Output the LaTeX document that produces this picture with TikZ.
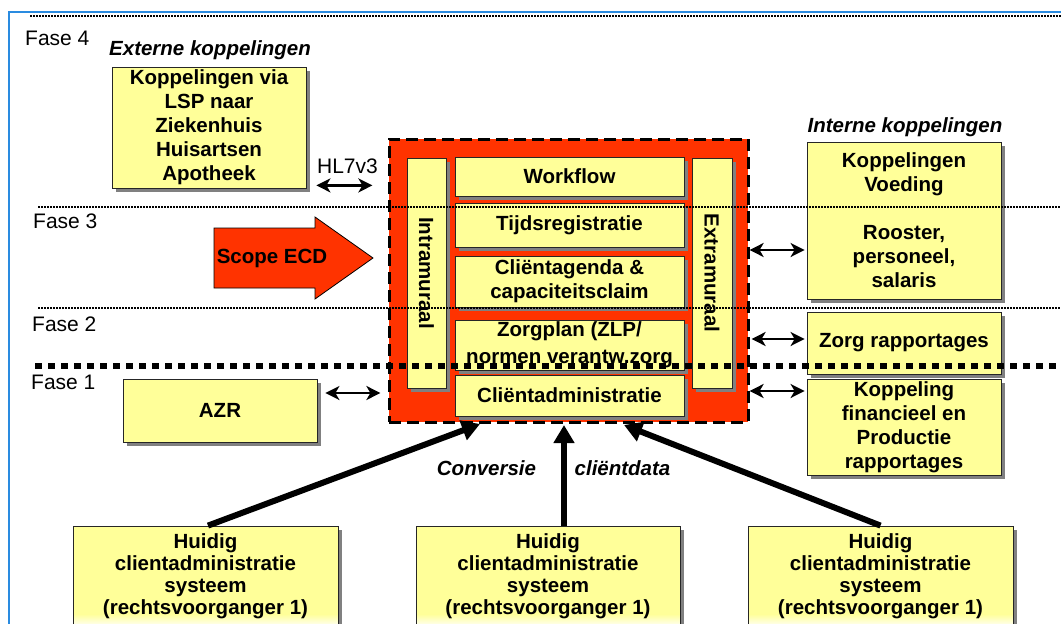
\documentclass[tikz,border=0pt]{standalone}
\usepackage{fontspec}
\setmainfont{Liberation Sans}
\usetikzlibrary{calc,arrows.meta}
\definecolor{geel}{HTML}{FFFF99}
\definecolor{rood}{HTML}{FF3300}
\definecolor{schaduw}{HTML}{808080}
\definecolor{kader}{HTML}{2A8BE0}
\newcommand{\tekstfont}{\fontsize{20.5}{24}\selectfont\bfseries}
\newcommand{\fasefont}{\fontsize{21}{24}\selectfont}
\pgfdeclarelayer{achter}
\pgfdeclarelayer{schaduwlaag}
\pgfsetlayers{achter,schaduwlaag,main}
\tikzset{
	blok/.style={draw=black!85, line width=0.8pt, fill=geel, align=center, inner sep=0pt, font=\tekstfont},
	oudblok/.style={blok, minimum width=265pt, minimum height=101pt, font=\fontsize{20.5}{22}\selectfont\bfseries,
		path picture={
			\shade[top color=geel, middle color=white, bottom color=geel]
				($(path picture bounding box.south west)+(0,-31)$) rectangle ($(path picture bounding box.south east)+(0,-13)$);
			\shade[top color=geel, bottom color=white]
				($(path picture bounding box.south west)+(0,-13)$) rectangle (path picture bounding box.south east);
		}},
	ecdvlak/.style={draw=black, fill=rood, line width=3pt, dash pattern=on 12pt off 6pt, inner sep=0pt},
	kop/.style={font=\fontsize{20.5}{24}\selectfont\bfseries\itshape, inner sep=0pt},
	fase/.style={font=\fasefont, inner sep=0pt, anchor=base west},
	dunpijl/.style={line width=2.4pt, {Stealth[length=14pt,width=14pt,inset=4pt]}-{Stealth[length=14pt,width=14pt,inset=4pt]}},
	dikpijl/.style={line width=6pt, -{Triangle[length=18pt,width=20pt]}},
	fijnstip/.style={line width=1.4pt, dash pattern=on 1.5pt off 1.5pt},
	grofstip/.style={line width=6pt, dash pattern=on 7pt off 6pt}
}

\begin{document}
\begin{tikzpicture}[x=1pt,y=-1pt]
	%%%%% START %%%%%
	\useasboundingbox (0,0) rectangle (1061,624);
	\begin{pgfonlayer}{achter}
		\draw[line width=2pt, color=kader] (9,12) rectangle (1090,660);
		% ECD vlak
		\node[ecdvlak, minimum width=359pt, minimum height=283pt] (ecd) at (568.5,280.5) {};
	\end{pgfonlayer}
	
	% fase labels
	\node[fase] (fase4) at (25,45) {Fase 4};
	\node[fase] (fase3) at (33,228) {Fase 3};
	\node[fase] (fase2) at (32,331) {Fase 2};
	\node[fase] (fase1) at (31,389) {Fase 1};
	
	% ECD in het midden
	\node[blok, minimum width=39pt, minimum height=230pt] (intra) at (426.5,273) {};
	\node[rotate=-90, font=\tekstfont, inner sep=0pt] (intratekst) at (intra) {Intramuraal};
	\node[blok, minimum width=40pt, minimum height=230pt] (extra) at (712,273) {};
	\node[rotate=-90, font=\tekstfont, inner sep=0pt] (extratekst) at (extra) {Extramuraal};
	\node[blok, minimum width=229pt, minimum height=39pt] (workflow) at (569.5,176.5) {Workflow};
	\node[blok, minimum width=229pt, minimum height=44pt] (tijd) at (569.5,225) {Tijdsregistratie};
	\node[blok, minimum width=229pt, minimum height=51pt] (agenda) at (569.5,281.5) {Cliëntagenda \&\\capaciteitsclaim};
	\node[blok, minimum width=229pt, minimum height=50pt, font=\fontsize{20.5}{27}\selectfont\bfseries] (zorgplan) at (569.5,345) {Zorgplan (ZLP/\\normen verantw.zorg};
	\node[blok, minimum width=229pt, minimum height=41pt] (admin) at (569.5,395.5) {Cliëntadministratie};
	
	% scope pijl
	\draw[fill=rood, line width=0.8pt] (214,228) -- (315,228) -- (315,217) -- (373,258) -- (315,299) -- (315,288) -- (214,288) -- cycle;
	\node[font=\tekstfont, inner sep=0pt] (scope) at (272,258) {Scope ECD};
	
	% externe koppelingen
	\node[kop] (extern) at (210,50) {Externe koppelingen};
	\node[blok, minimum width=194pt, minimum height=121pt] (lsp) at (209,127.5) {Koppelingen via\\LSP naar\\Ziekenhuis\\Huisartsen\\Apotheek};
	\draw[dunpijl] (lsp.south east) ++(10,-3) -- ++(56,0);
	\node[font=\fasefont, inner sep=0pt, anchor=base] (hl7) at (347.5,173) {HL7v3};
	\node[blok, minimum width=194pt, minimum height=63pt] (azr) at (220,410.5) {AZR};
	\draw[dunpijl] (azr.east) ++(8,-17.5) -- ++(55,0);
	
	% interne koppelingen
	\node[kop] (intern) at (905,127) {Interne koppelingen};
	\node[blok, minimum width=194pt, minimum height=157pt] (voeding) at (904,220.5) {Koppelingen\\Voeding\\[24pt]Rooster,\\personeel,\\salaris};
	\node[blok, minimum width=194pt, minimum height=62pt] (rapport) at (904,343) {Zorg rapportages};
	\node[blok, minimum width=194pt, minimum height=96pt] (financieel) at (904,427) {Koppeling\\financieel en\\Productie\\rapportages};
	\draw[dunpijl] (voeding.west) ++(-2,29.5) -- ++(-55,0);
	\draw[dunpijl] (rapport.west) ++(-2,-4) -- ++(-53,0);
	\draw[dunpijl] (financieel.west) ++(-2,-36) -- ++(-55,0);
	
	% huidige systemen
	\node[oudblok] (oud1) at (205.5,576.5) {Huidig\\clientadministratie\\systeem\\(rechtsvoorganger 1)};
	\node[oudblok, minimum width=264pt] (oud2) at (548,576.5) {Huidig\\clientadministratie\\systeem\\(rechtsvoorganger 1)};
	\node[oudblok] (oud3) at (880.5,576.5) {Huidig\\clientadministratie\\systeem\\(rechtsvoorganger 1)};
	
	% schaduwen onder de blokken
	\begin{pgfonlayer}{schaduwlaag}
		\foreach \blk in {intra,extra,workflow,tijd,agenda,zorgplan,admin,lsp,azr,voeding,rapport,financieel,oud1,oud2,oud3}
			\fill[schaduw] ($(\blk.south west)+(4,4)$) rectangle ($(\blk.north east)+(4,4)$);
	\end{pgfonlayer}
	
	\coordinate (inlinks) at (480,424);
	\coordinate (inmidden) at (564,425);
	\coordinate (inrechts) at (624,425);
	\draw[dikpijl] ($(oud1.north)+(2.5,0)$) -- (inlinks);
	\draw[dikpijl] ($(oud2.north)+(16,0)$) -- (inmidden);
	\draw[dikpijl] (oud3.north) -- (inrechts);
	\node[kop, anchor=base] (conversie) at (486.5,475) {Conversie};
	\node[kop, anchor=base] (clientdata) at (622.5,475) {cliëntdata};
	
	% fasegrenzen
	\draw[fijnstip] (30,16) -- (1061,16);
	\draw[fijnstip] (38,207) -- (1061,207);
	\draw[fijnstip] (38,308) -- (1061,308);
	\draw[grofstip] (35,366) -- (1061,366);
	
	%%%%% END %%%%%
\end{tikzpicture}
\end{document}
